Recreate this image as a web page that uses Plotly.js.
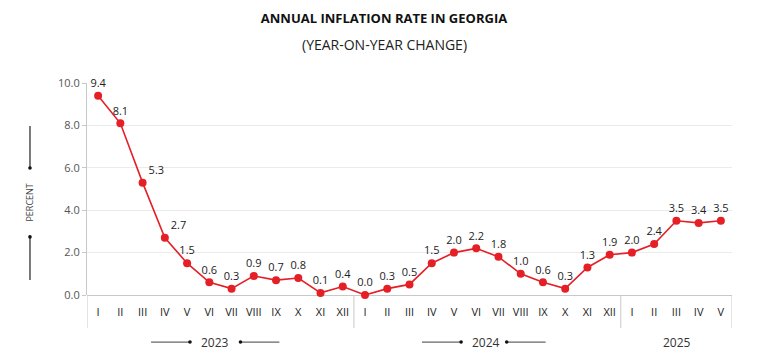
<!DOCTYPE html>
<html>
<head>
<meta charset="utf-8">
<script src="https://cdn.plot.ly/plotly-3.0.1.min.js"></script>
<style>html,body{margin:0;padding:0;background:#fff;}#chart{width:768px;height:362px;}</style>
</head>
<body>
<div id="chart"></div>
<script>
const months = ["I","II","III","IV","V","VI","VII","VIII","IX","X","XI","XII",
                "I","II","III","IV","V","VI","VII","VIII","IX","X","XI","XII",
                "I","II","III","IV","V"];
const years = ["2023","2024","2025"];
const values2023 = [9.4, 8.1, 5.3, 2.7, 1.5, 0.6, 0.3, 0.9, 0.7, 0.8, 0.1, 0.4];
const values2024 = [0.0, 0.3, 0.5, 1.5, 2.0, 2.2, 1.8, 1.0, 0.6, 0.3, 1.3, 1.9];
const values2025 = [2.0, 2.4, 3.5, 3.4, 3.5];
const yTicks = [0, 2, 4, 6, 8, 10];

const values = values2023.concat(values2024, values2025);
const idx = values.map((v, i) => i);
const groups = [values2023.length, values2024.length, values2025.length];

const FONT = "Open Sans, Noto Sans, sans-serif";
const grey = "#c8c8c8";

// label placement style: steep-descent points nudged right of the line
const labelPos = idx.map(i => (i === 2 || i === 3) ? "top right" : "top center");

const trace = {
  x: idx, y: values, type: "scatter", mode: "lines+markers+text",
  line: {color: "#e41f26", width: 1.6},
  marker: {color: "#e41f26", size: 8},
  text: values.map(v => v.toFixed(1)),
  textposition: labelPos,
  textfont: {family: FONT, size: 11, color: "#222"},
  cliponaxis: false, hoverinfo: "skip"
};

const shapes = [];
let start = 0;
const bounds = [-0.5];
groups.forEach(n => { start += n; bounds.push(start - 0.5); });
bounds.forEach(b => shapes.push({type: "line", xref: "x", yref: "paper", x0: b, x1: b, y0: 0, y1: -0.155, line: {color: grey, width: 1}}));

const annotations = [];
const centers = [5.26, 17.46, 26.03];
years.forEach((y, i) => {
  annotations.push({xref: "x", yref: "paper", x: centers[i], y: -0.222, text: y, showarrow: false,
    font: {family: FONT, size: 12, color: "#333"}, xanchor: "center", yanchor: "middle"});
});
const dec = [[2.38, 4.13, 6.40, 8.15], [14.56, 16.32, 18.37, 20.12]];
const dot = (xr, yr, xa, ya) => ({type: "circle", xref: xr, yref: yr, xsizemode: "pixel", ysizemode: "pixel", xanchor: xa, yanchor: ya, x0: -1.8, x1: 1.8, y0: -1.8, y1: 1.8, fillcolor: "#111", line: {width: 0}});
dec.forEach(d => {
  shapes.push({type: "line", xref: "x", yref: "paper", x0: d[0], x1: d[1], y0: -0.222, y1: -0.222, line: {color: "#666", width: 1.3}});
  shapes.push({type: "line", xref: "x", yref: "paper", x0: d[2], x1: d[3], y0: -0.222, y1: -0.222, line: {color: "#666", width: 1.3}});
  shapes.push(dot("x", "paper", d[1], -0.222));
  shapes.push(dot("x", "paper", d[2], -0.222));
});
const px = -0.0884;
shapes.push({type: "line", xref: "paper", yref: "paper", x0: px, x1: px, y0: 0.797, y1: 0.599, line: {color: "#222", width: 1.2}});
shapes.push({type: "line", xref: "paper", yref: "paper", x0: px, x1: px, y0: 0.274, y1: 0.071, line: {color: "#222", width: 1.2}});
shapes.push(dot("paper", "paper", px, 0.599));
shapes.push(dot("paper", "paper", px, 0.274));
annotations.push({xref: "paper", yref: "paper", x: px, y: 0.436, text: "PERCENT", textangle: -90, showarrow: false,
  font: {family: FONT, size: 9, color: "#444"}, xanchor: "center", yanchor: "middle"});
annotations.push({xref: "paper", yref: "paper", x: (384 - 87) / 645, y: (295 - 45) / 212, text: "(YEAR-ON-YEAR CHANGE)", showarrow: false,
  font: {family: FONT, size: 14, color: "#222"}, xanchor: "center", yanchor: "middle"});

const layout = {
  width: 768, height: 362,
  margin: {l: 87, r: 36, t: 83, b: 67},
  paper_bgcolor: "#fff", plot_bgcolor: "#fff",
  showlegend: false,
  title: {text: "<b>ANNUAL INFLATION RATE IN GEORGIA</b>", x: 0.5, xref: "container", xanchor: "center", y: 1 - 18/362, yanchor: "middle", yref: "container",
    font: {family: FONT, size: 13, color: "#111"}},
  xaxis: {
    range: [-0.5, idx.length - 0.5], tickmode: "array", tickvals: idx, ticktext: months,
    showgrid: false, zeroline: false, showline: false, ticks: "",
    tickfont: {family: FONT, size: 11, color: "#222"}, ticklabelstandoff: 9, fixedrange: true
  },
  yaxis: {
    range: [0, 10], tickmode: "array", tickvals: yTicks, ticktext: yTicks.map(v => v.toFixed(1)),
    showgrid: true, gridcolor: "#ebebeb", gridwidth: 1, zeroline: true, zerolinecolor: grey, zerolinewidth: 1,
    showline: true, linecolor: grey, linewidth: 1, ticks: "outside", ticklen: 4, tickcolor: grey,
    tickfont: {family: FONT, size: 11, color: "#555"}, fixedrange: true
  },
  shapes: shapes,
  annotations: annotations
};

Plotly.newPlot("chart", [trace], layout, {displayModeBar: false, staticPlot: true});
</script>
</body>
</html>
